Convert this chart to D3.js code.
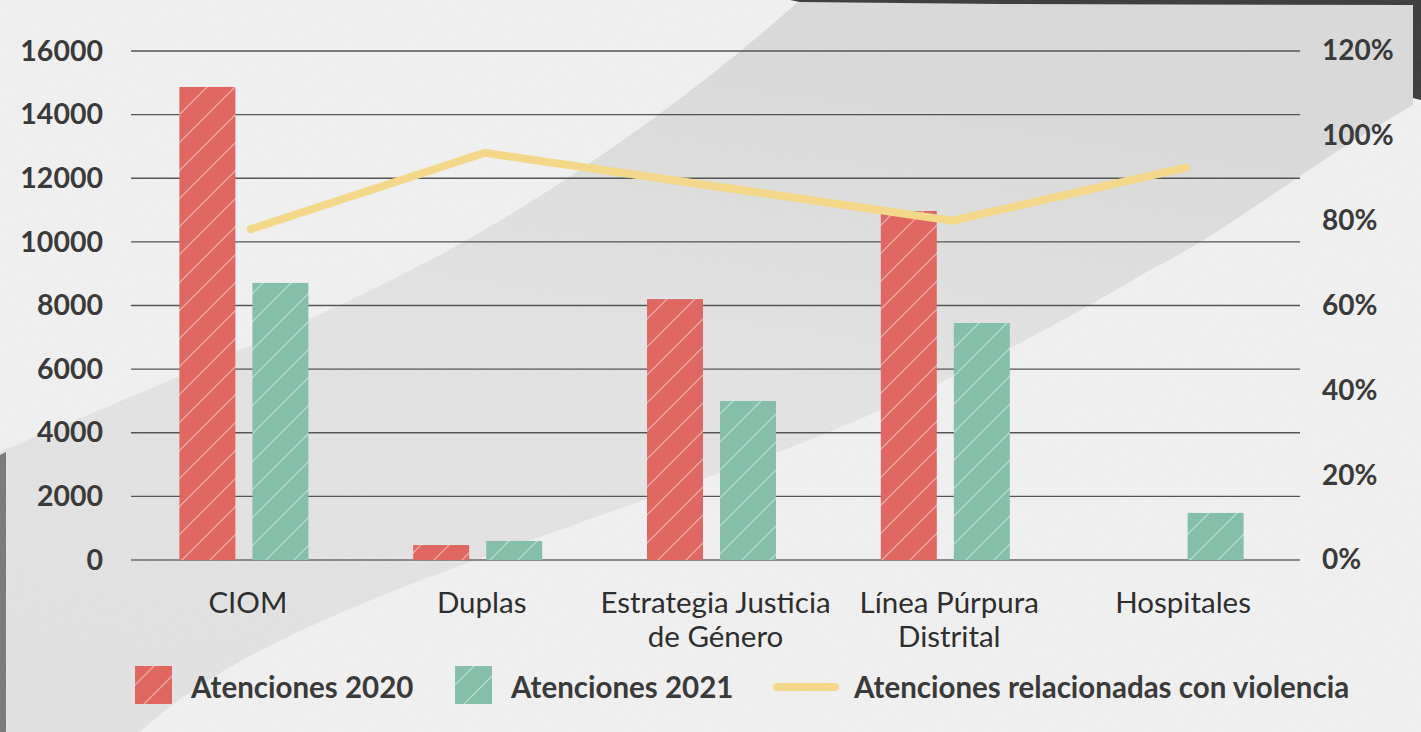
<!DOCTYPE html>
<html>
<head>
<meta charset="utf-8">
<script src="https://cdn.jsdelivr.net/npm/d3@7"></script>
<style>
  body { margin: 0; background: #f1f1f1; }
  svg { display: block; font-family: Lato, "Open Sans", sans-serif; }
</style>
</head>
<body>
<script>
// Data
var categories = ["CIOM", "Duplas", "Estrategia Justicia|de Género", "Línea Púrpura|Distrital", "Hospitales"];
var atenciones2020 = [14870, 470, 8200, 10970, null];
var atenciones2021 = [8710, 600, 5000, 7450, 1480];
var violencia = [0.78, 0.96, 0.88, 0.80, 0.925];
var leftTicks = [0, 2000, 4000, 6000, 8000, 10000, 12000, 14000, 16000];
var rightTicks = [0, 0.2, 0.4, 0.6, 0.8, 1.0, 1.2];
var seriesNames = ["Atenciones 2020", "Atenciones 2021", "Atenciones relacionadas con violencia"];

var svgWidth = 1421;
var svgHeight = 732;
var margin = { top: 51, left: 131, right: 121, bottom: 172 };
var chartWidth = svgWidth - margin.left - margin.right;
var chartHeight = svgHeight - margin.top - margin.bottom;

var colors = { red: "#e06661", teal: "#85bfaa", line: "#f2d888", text: "#3a3a3a", grid: "#555" };

var svg = d3.select("body").append("svg")
  .attr("width", svgWidth)
  .attr("height", svgHeight);

var defs = svg.append("defs");

// hatch patterns for the bars
[["hatchRed", colors.red], ["hatchTeal", colors.teal]].forEach(function(p) {
  var pat = defs.append("pattern")
    .attr("id", p[0])
    .attr("patternUnits", "userSpaceOnUse")
    .attr("width", 28)
    .attr("height", 28);
  pat.append("rect").attr("width", 28).attr("height", 28).attr("fill", p[1]);
  pat.append("path")
    .attr("d", "M-7,7 L7,-7 M0,28 L28,0 M21,35 L35,21")
    .attr("stroke", "#fff")
    .attr("stroke-opacity", 0.45)
    .attr("stroke-width", 1.3);
});

// paper texture
var f = defs.append("filter").attr("id", "paper").attr("x", 0).attr("y", 0).attr("width", "100%").attr("height", "100%");
f.append("feTurbulence").attr("type", "fractalNoise").attr("baseFrequency", "0.9 0.25").attr("numOctaves", 2).attr("seed", 3);
f.append("feColorMatrix").attr("values", "0 0 0 0 0.5  0 0 0 0 0.5  0 0 0 0 0.5  0 0 0 0.08 0");

var bandGrad = defs.append("linearGradient").attr("id", "band")
  .attr("x1", 0).attr("y1", 1).attr("x2", 0.3).attr("y2", 0);
bandGrad.append("stop").attr("offset", 0).attr("stop-color", "#e2e2e2");
bandGrad.append("stop").attr("offset", 0.6).attr("stop-color", "#e4e4e4");
bandGrad.append("stop").attr("offset", 1).attr("stop-color", "#dadada");

// background: light paper, grey diagonal band, dark photo edges
var bg = svg.append("g");
bg.append("rect").attr("width", svgWidth).attr("height", svgHeight).attr("fill", "#f1f1f1");
bg.append("path")
  .attr("d", "M0,452 C120,400 300,330 440,255 C560,190 700,90 800,0 L1413,0 L1413,105 " +
             "C1300,170 1230,230 1150,270 C1000,360 850,430 700,480 C450,570 250,630 140,732 L0,732 Z")
  .attr("fill", "url(#band)");
bg.append("path")
  .attr("d", "M790,0 L1421,0 L1421,100 L1413,98 L1413,5 L1000,4 L800,2 Z")
  .attr("fill", "#3b3b3b");
bg.append("path")
  .attr("d", "M0,455 L6,452 L6,732 L0,732 Z")
  .attr("fill", "#7a7a7a");
bg.append("rect").attr("width", svgWidth).attr("height", svgHeight).attr("filter", "url(#paper)");

var chartGroup = svg.append("g")
  .attr("transform", `translate(${margin.left}, ${margin.top})`);

// Scales
var x0 = d3.scaleBand()
  .domain(categories)
  .range([0, chartWidth]);

var x1 = d3.scaleBand()
  .domain(["2020", "2021"])
  .range([-64.5, 64.5])
  .paddingInner(0.233);

var yLeft = d3.scaleLinear().domain([0, 16000]).range([chartHeight, 0]);
var yRight = d3.scaleLinear().domain([0, 1.2]).range([chartHeight, 0]);

// gridlines
chartGroup.append("g")
  .selectAll("line")
  .data(leftTicks)
  .enter()
  .append("line")
  .attr("x1", 0)
  .attr("x2", chartWidth)
  .attr("y1", d => yLeft(d))
  .attr("y2", d => yLeft(d))
  .attr("stroke", d => d === 0 ? "#8a8a8a" : colors.grid)
  .attr("stroke-width", d => d === 0 ? 2 : 1.3);

// left axis
var leftAxis = d3.axisLeft(yLeft).tickValues(leftTicks).tickSize(0).tickPadding(28).tickFormat(d3.format("d"));
var la = chartGroup.append("g").call(leftAxis);
la.select(".domain").remove();
la.selectAll("text")
  .attr("font-family", "Lato")
  .attr("font-size", 28.5)
  .attr("font-weight", "bold")
  .attr("fill", colors.text);

// right axis
var rightAxis = d3.axisRight(yRight).tickValues(rightTicks).tickSize(0).tickPadding(22).tickFormat(d3.format(".0%"));
var ra = chartGroup.append("g").attr("transform", `translate(${chartWidth}, 0)`).call(rightAxis);
ra.select(".domain").remove();
ra.selectAll("text")
  .attr("font-family", "Lato")
  .attr("font-size", 28)
  .attr("font-weight", "bold")
  .attr("fill", colors.text);

// bars
var barOffset = -4;
var barData = [];
categories.forEach(function(c, i) {
  if (atenciones2020[i] != null) barData.push({ cat: c, year: "2020", value: atenciones2020[i] });
  if (atenciones2021[i] != null) barData.push({ cat: c, year: "2021", value: atenciones2021[i] });
});

chartGroup.append("g")
  .selectAll("rect")
  .data(barData)
  .enter()
  .append("rect")
  .attr("x", d => x0(d.cat) + x0.bandwidth() / 2 + barOffset + x1(d.year))
  .attr("y", d => yLeft(d.value))
  .attr("width", x1.bandwidth())
  .attr("height", d => chartHeight - yLeft(d.value))
  .attr("fill", d => d.year === "2020" ? "url(#hatchRed)" : "url(#hatchTeal)");

// line on right axis
var lineOffset = 3;
var violenceLine = d3.line()
  .x((d, i) => x0(categories[i]) + x0.bandwidth() / 2 + lineOffset)
  .y(d => yRight(d));

chartGroup.append("path")
  .attr("d", violenceLine(violencia))
  .attr("fill", "none")
  .attr("stroke", colors.line)
  .attr("stroke-width", 8)
  .attr("stroke-linecap", "round")
  .attr("stroke-linejoin", "miter");

// category labels
var catLabels = chartGroup.append("g")
  .selectAll("text")
  .data(categories)
  .enter()
  .append("text")
  .attr("x", d => x0(d) + x0.bandwidth() / 2)
  .attr("y", chartHeight + 53)
  .attr("text-anchor", "middle")
  .attr("font-family", "Lato")
  .attr("font-size", 29.5)
  .attr("fill", "#2e2e2e");

catLabels.selectAll("tspan")
  .data(d => d.split("|").map(t => ({ t: t, x: x0(d) + x0.bandwidth() / 2 })))
  .enter()
  .append("tspan")
  .attr("x", d => d.x)
  .attr("dy", (d, i) => i === 0 ? 0 : 34)
  .text(d => d.t);

// legend
var legend = svg.append("g").attr("transform", "translate(0, 685)");
var legendItems = [
  { name: seriesNames[0], type: "bar", fill: "url(#hatchRed)", x: 135 },
  { name: seriesNames[1], type: "bar", fill: "url(#hatchTeal)", x: 455 },
  { name: seriesNames[2], type: "line", x: 773 }
];

legendItems.forEach(function(item) {
  var g = legend.append("g").attr("transform", `translate(${item.x}, 0)`);
  if (item.type === "bar") {
    g.append("rect")
      .attr("x", 0).attr("y", -19)
      .attr("width", 37).attr("height", 38)
      .attr("fill", item.fill);
    g.append("text")
      .attr("x", 56).attr("y", 1)
      .attr("dominant-baseline", "central")
      .attr("font-family", "Lato").attr("font-size", 29.5).attr("font-weight", "bold")
      .attr("fill", colors.text)
      .text(item.name);
  } else {
    g.append("line")
      .attr("x1", 4).attr("x2", 62).attr("y1", 2).attr("y2", 2)
      .attr("stroke", colors.line).attr("stroke-width", 8).attr("stroke-linecap", "round");
    g.append("text")
      .attr("x", 81).attr("y", 1)
      .attr("dominant-baseline", "central")
      .attr("font-family", "Lato").attr("font-size", 29.5).attr("font-weight", "bold")
      .attr("fill", colors.text)
      .text(item.name);
  }
});
</script>
</body>
</html>
